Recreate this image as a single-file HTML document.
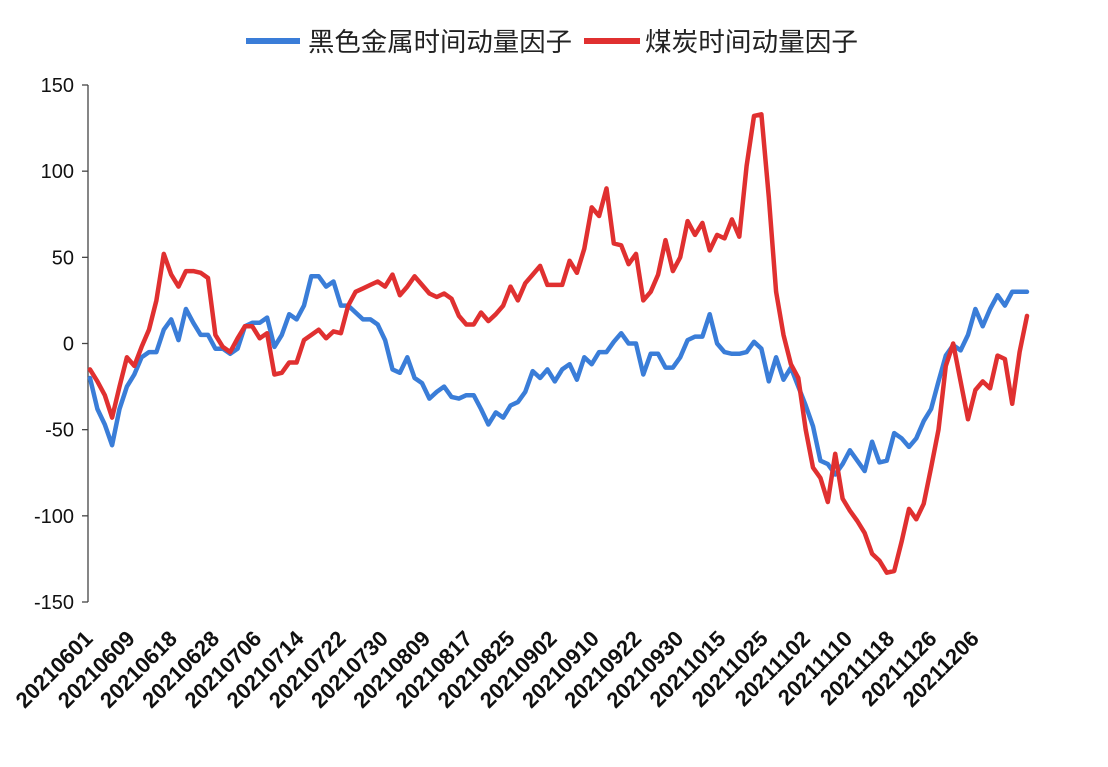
<!DOCTYPE html>
<html><head><meta charset="utf-8"><style>
body{margin:0;background:#fff;}
svg text{font-family:"Liberation Sans","Noto Sans CJK SC",sans-serif;}
</style></head><body>
<svg id="chart" width="1108" height="762" xmlns="http://www.w3.org/2000/svg">
<rect width="1108" height="762" fill="#fff"/>
<g>
<line x1="246" y1="41" x2="300" y2="41" stroke="#3a7dd8" stroke-width="6"/>
<text x="308" y="51" font-size="26" textLength="264" lengthAdjust="spacingAndGlyphs" fill="#222">黑色金属时间动量因子</text>
<line x1="584" y1="41" x2="640" y2="41" stroke="#e03030" stroke-width="6"/>
<text x="645" y="51" font-size="26" textLength="213" lengthAdjust="spacingAndGlyphs" fill="#222">煤炭时间动量因子</text>
</g>
<g id="axes"></g>
<g id="series"></g>
</svg>
<script>
const blueValues=[-20,-38,-47,-59,-38,-25,-18,-8,-5,-5,8,14,2,20,12,5,5,-3,-3,-6,-3,10,12,12,15,-2,5,17,14,22,39,39,33,36,22,22,18,14,14,11,2,-15,-17,-8,-20,-23,-32,-28,-25,-31,-32,-30,-30,-38,-47,-40,-43,-36,-34,-28,-16,-20,-15,-22,-15,-12,-21,-8,-12,-5,-5,1,6,0,0,-18,-6,-6,-14,-14,-8,2,4,4,17,0,-5,-6,-6,-5,1,-3,-22,-8,-21,-14,-25,-36,-48,-68,-70,-76,-70,-62,-68,-74,-57,-69,-68,-52,-55,-60,-55,-45,-38,-22,-7,-1,-4,5,20,10,20,28,22,30,30,30];
const redValues=[-15,-22,-30,-43,-25,-8,-13,-2,8,25,52,40,33,42,42,41,38,5,-2,-5,3,10,10,3,6,-18,-17,-11,-11,2,5,8,3,7,6,22,30,32,34,36,33,40,28,33,39,34,29,27,29,26,16,11,11,18,13,17,22,33,25,35,40,45,34,34,34,48,41,55,79,74,90,58,57,46,52,25,30,40,60,42,50,71,63,70,54,63,61,72,62,103,132,133,85,30,5,-12,-20,-50,-72,-78,-92,-64,-90,-97,-103,-110,-122,-126,-133,-132,-115,-96,-102,-93,-72,-50,-13,0,-22,-44,-27,-22,-26,-7,-9,-35,-5,16];
const yTicks=[150,100,50,0,-50,-100,-150];
const xLabels=["20210601","20210609","20210618","20210628","20210706","20210714","20210722","20210730","20210809","20210817","20210825","20210902","20210910","20210922","20210930","20211015","20211025","20211102","20211110","20211118","20211126","20211206"];
const labelStep=5.72;
const NS='http://www.w3.org/2000/svg';
const N=blueValues.length;
const x0=90,x1=1027,yTop=85,yBot=602;
function xScale(i){return x0+(x1-x0)*i/(N-1);}
function yScale(v){return yBot-(v+150)/300*(yBot-yTop);}
const axes=document.getElementById('axes');
function mk(tag,attrs,parent){const e=document.createElementNS(NS,tag);for(const k in attrs)e.setAttribute(k,attrs[k]);parent.appendChild(e);return e;}
const axisLine=mk('line',{x1:88,y1:yScale(150),x2:88,y2:yScale(-150),stroke:'#444','stroke-width':1.3},axes);


yTicks.forEach(v=>{
 const t=mk('line',{x1:82,x2:88,y1:yScale(v),y2:yScale(v),stroke:'#444','stroke-width':1.3},axes);
 
 
 const l=mk('text',{x:74,y:yScale(v)+7,'text-anchor':'end','font-size':20,fill:'#111'},axes);
 l.textContent=v;
 
 
});
xLabels.forEach((s,k)=>{
 const x=xScale(k*labelStep)+4,y=640;
 const l=mk('text',{x:x,y:y,'text-anchor':'end','font-size':22,'font-weight':'bold',fill:'#111',transform:`rotate(-45 ${x} ${y})`},axes);
 l.textContent=s;
 
 
});
const series=document.getElementById('series');
function drawLine(vals,color,name){
 const d=vals.map((v,i)=>(i?'L':'M')+xScale(i).toFixed(1)+' '+yScale(v).toFixed(1)).join(' ');
 const p=mk('path',{d:d,fill:'none',stroke:color,'stroke-width':4.5,'stroke-linejoin':'round','stroke-linecap':'round'},series);
 
 
}
drawLine(blueValues,'#3a7dd8','ferrous-metal-momentum-line');
drawLine(redValues,'#e03030','coal-momentum-line');
</script>
</body></html>
